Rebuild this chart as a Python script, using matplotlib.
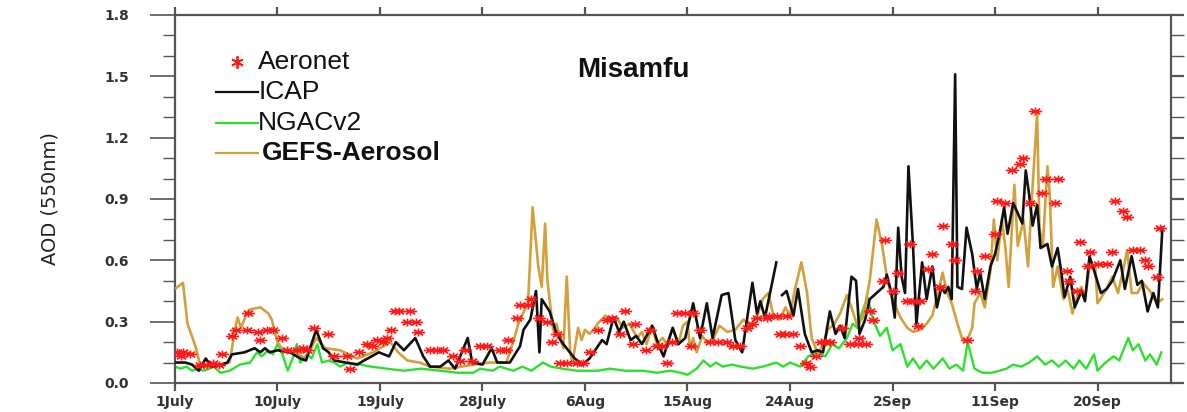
import numpy as np
import matplotlib.pyplot as plt
from matplotlib.path import Path

# days since 1 July, AOD at 550nm
icap_day = [0.0, 0.9, 1.5, 2.1, 2.7, 3.2, 4.0, 4.6, 5.0, 6.1, 7.0, 7.5, 7.9, 8.3, 9.0, 10.1,
            11.0, 11.5, 12.4, 13.0, 13.5, 14.0, 15.0, 16.0, 16.6, 17.9, 18.8, 19.4, 20.1, 21.1,
            21.8, 22.4, 23.3, 24.0, 24.6, 25.7, 26.1, 27.0, 27.8, 28.3, 29.4, 30.3, 30.6, 31.2,
            31.7, 32.0, 32.2, 32.9, 33.5, 34.1, 35.1, 35.8, 36.4, 37.5, 37.9, 38.5, 39.0, 39.4,
            40.0, 40.5, 41.0, 41.9, 42.5, 42.9, 43.7, 44.2, 44.8, 45.5, 46.1, 46.7, 47.2, 48.0,
            48.6, 49.2, 49.8, 50.7, 51.1, 51.4, 51.8, 52.8, 53.0, 53.3, 53.7, 54.3, 54.7, 55.3,
            55.9, 56.4, 56.9, 57.5, 58.0, 58.4, 58.8, 59.4, 59.8, 60.1, 60.6, 61.0, 61.6, 62.2,
            62.5, 62.9, 63.2, 63.5, 63.8, 64.1, 64.4, 64.8, 65.1, 65.6, 66.0, 66.5, 66.9, 67.3,
            67.6, 67.9, 68.2, 68.5, 68.7, 69.1, 69.5, 70.0, 70.4, 70.7, 71.1, 71.6, 72.0, 72.4,
            72.8, 73.1, 73.6, 74.4, 74.7, 75.0, 75.3, 75.7, 76.0, 76.6, 77.0, 77.5, 77.8, 78.1,
            78.6, 79.0, 79.6, 79.9, 80.3, 80.7, 81.3, 81.8, 82.3, 83.0, 83.4, 84.0, 84.5, 84.9,
            85.4, 85.9, 86.3, 86.7]
icap_aod = [0.10, 0.10, 0.09, 0.06, 0.12, 0.08, 0.09, 0.10, 0.14, 0.15, 0.17, 0.15, 0.17, 0.15, 0.16, 0.15,
            0.12, 0.11, 0.26, 0.17, 0.15, 0.11, 0.10, 0.09, 0.11, 0.15, 0.13, 0.20, 0.16, 0.22,
            0.13, 0.08, 0.08, 0.11, 0.07, 0.22, 0.10, 0.09, 0.17, 0.10, 0.10, 0.18, 0.26, 0.31,
            0.45, 0.15, 0.41, 0.35, 0.24, 0.19, 0.12, 0.09, 0.12, 0.21, 0.19, 0.32, 0.25, 0.30,
            0.21, 0.23, 0.19, 0.28, 0.18, 0.13, 0.27, 0.19, 0.22, 0.39, 0.22, 0.39, 0.22, 0.43,
            0.44, 0.21, 0.15, 0.49, 0.34, 0.40, 0.32, 0.59, np.nan, 0.43, 0.45, 0.33, 0.46, 0.24,
            0.15, 0.16, 0.15, 0.35, 0.24, 0.28, 0.22, 0.52, 0.50, 0.24, 0.31, 0.41, 0.44, 0.47,
            0.53, 0.44, 0.32, 0.76, 0.52, 0.44, 1.06, 0.67, 0.29, 0.59, 0.41, 0.57, 0.37, 0.47,
            0.44, 0.47, 0.41, 1.51, 0.47, 0.46, 0.76, 0.63, 0.46, 0.54, 0.41, 0.57, 0.63, 0.73,
            0.86, 0.73, 0.88, 0.78, 1.04, 0.92, 0.77, 0.87, 0.66, 0.68, 0.57, 0.66, 0.55, 0.42,
            0.52, 0.37, 0.45, 0.40, 0.62, 0.55, 0.44, 0.46, 0.50, 0.60, 0.46, 0.62, 0.48, 0.50,
            0.35, 0.44, 0.37, 0.76]

ngac_day = [0.0, 0.5, 1.0, 1.5, 2.0, 2.5, 3.0, 3.4, 4.0, 4.8, 5.7, 6.6, 7.2, 7.6, 8.2, 8.6, 9.0,
            9.5, 9.9, 10.4, 10.7, 11.0, 11.6, 12.0, 12.5, 12.9, 13.5, 14.0, 14.5, 15.2, 16.3,
            17.2, 18.6, 20.1, 21.6, 23.3, 24.8, 26.2, 26.8, 27.9, 28.5, 29.7, 30.5, 31.3, 32.3,
            33.0, 34.0, 35.3, 37.1, 38.2, 39.5, 41.1, 42.3, 43.5, 44.4, 45.0, 45.8, 46.4, 47.0,
            47.5, 48.1, 48.9, 49.7, 50.7, 51.6, 52.8, 53.4, 54.0, 54.9, 55.6, 56.4, 57.1, 57.7,
            58.3, 59.0, 59.5, 59.9, 60.3, 60.8, 61.3, 61.9, 62.5, 63.0, 63.7, 64.3, 64.8, 65.4,
            66.0, 66.6, 67.4, 68.0, 68.6, 69.2, 69.6, 70.2, 70.9, 71.7, 72.4, 73.0, 73.6, 74.3,
            75.0, 75.7, 76.4, 77.0, 77.6, 78.2, 78.9, 79.4, 80.0, 80.7, 81.0, 81.7, 82.4, 82.9,
            83.7, 84.1, 84.6, 85.2, 85.6, 86.2, 86.6]
ngac_aod = [0.08, 0.07, 0.08, 0.06, 0.07, 0.06, 0.07, 0.08, 0.05, 0.06, 0.09, 0.10, 0.15, 0.13, 0.16, 0.14, 0.19,
            0.13, 0.06, 0.13, 0.19, 0.10, 0.14, 0.12, 0.19, 0.10, 0.11, 0.10, 0.08, 0.10, 0.09,
            0.08, 0.07, 0.06, 0.07, 0.06, 0.05, 0.05, 0.07, 0.06, 0.08, 0.06, 0.08, 0.06, 0.10,
            0.08, 0.07, 0.06, 0.06, 0.07, 0.06, 0.06, 0.05, 0.06, 0.05, 0.04, 0.07, 0.11, 0.08,
            0.10, 0.08, 0.09, 0.08, 0.07, 0.08, 0.10, 0.08, 0.10, 0.08, 0.13, 0.15, 0.13, 0.19,
            0.17, 0.22, 0.29, 0.27, 0.34, 0.42, 0.31, 0.23, 0.27, 0.16, 0.19, 0.08, 0.12, 0.07,
            0.11, 0.07, 0.12, 0.07, 0.09, 0.06, 0.20, 0.07, 0.05, 0.05, 0.06, 0.07, 0.09, 0.08,
            0.10, 0.13, 0.09, 0.11, 0.08, 0.11, 0.07, 0.11, 0.07, 0.14, 0.06, 0.10, 0.13, 0.11,
            0.22, 0.16, 0.19, 0.11, 0.14, 0.09, 0.15]

gefs_day = [0.0, 0.7, 1.1, 1.8, 2.2, 3.2, 4.0, 4.8, 5.3, 5.5, 5.8, 6.3, 6.6, 7.5, 8.2, 8.5, 9.0,
            9.5, 10.5, 11.5, 12.4, 13.2, 14.5, 16.0, 17.4, 18.9, 19.6, 20.4, 21.5, 22.4, 24.1,
            26.2, 27.7, 29.1, 29.8, 30.2, 31.0, 31.4, 31.9, 32.2, 32.5, 32.7, 33.2, 33.5, 33.8,
            34.1, 34.4, 34.7, 34.9, 35.4, 35.7, 36.0, 36.4, 36.9, 37.1, 37.8, 38.2, 38.8, 39.3,
            39.9, 40.6, 41.0, 41.4, 41.9, 42.3, 42.8, 43.2, 43.7, 44.2, 44.6, 45.0, 45.2, 45.5,
            45.8, 46.3, 46.7, 47.2, 47.8, 48.5, 49.2, 49.9, 50.5, 51.2, 51.6, 52.1, 52.5, 53.1,
            53.6, 54.0, 54.4, 55.0, 55.5, 55.9, 56.4, 56.9, 57.3, 57.9, 58.4, 59.0, 59.4, 59.9,
            60.4, 61.0, 61.6, 62.1, 62.5, 63.0, 63.7, 64.3, 64.8, 65.4, 66.0, 66.5, 67.0, 67.4,
            67.8, 68.2, 68.7, 69.1, 69.5, 70.0, 70.2, 70.7, 71.1, 71.6, 71.9, 72.2, 72.6, 72.9,
            73.2, 73.7, 74.0, 74.5, 74.9, 75.2, 75.7, 75.9, 76.2, 76.6, 76.8, 77.1, 77.5, 78.0,
            78.4, 78.8, 79.3, 79.6, 79.9, 80.3, 80.8, 81.0, 81.7, 82.3, 82.8, 83.2, 83.6, 84.0,
            84.5, 85.0, 85.6, 86.2, 86.7]
gefs_aod = [0.46, 0.49, 0.29, 0.18, 0.09, 0.08, 0.09, 0.10, 0.27, 0.32, 0.27, 0.34, 0.36, 0.37, 0.34, 0.31, 0.20,
            0.16, 0.15, 0.12, 0.22, 0.17, 0.16, 0.12, 0.15, 0.20, 0.15, 0.11, 0.10, 0.08, 0.07,
            0.09, 0.10, 0.10, 0.22, 0.30, 0.39, 0.86, 0.57, 0.47, 0.78, 0.50, 0.26, 0.29, 0.22,
            0.17, 0.52, 0.15, 0.10, 0.27, 0.21, 0.26, 0.24, 0.27, 0.29, 0.33, 0.31, 0.32, 0.27,
            0.29, 0.22, 0.25, 0.19, 0.28, 0.19, 0.22, 0.19, 0.27, 0.19, 0.28, 0.30, 0.17, 0.22,
            0.15, 0.23, 0.20, 0.21, 0.28, 0.25, 0.26, 0.31, 0.28, 0.34, 0.41, 0.44, 0.34, 0.31,
            0.37, 0.33, 0.45, 0.59, 0.44, 0.22, 0.15, 0.18, 0.26, 0.29, 0.34, 0.43, 0.37, 0.28,
            0.32, 0.50, 0.80, 0.67, 0.52, 0.41, 0.32, 0.27, 0.25, 0.26, 0.29, 0.33, 0.44, 0.54,
            0.44, 0.39, 0.29, 0.22, 0.20, 0.27, 0.39, 0.44, 0.37, 0.55, 0.80, 0.60, 0.80, 0.67,
            0.47, 0.97, 0.67, 0.80, 0.57, 0.87, 1.32, 0.76, 0.67, 1.06, 0.93, 0.47, 0.57, 0.41,
            0.45, 0.34, 0.44, 0.47, 0.41, 0.57, 0.57, 0.39, 0.45, 0.52, 0.44, 0.54, 0.65, 0.44,
            0.44, 0.49, 0.45, 0.39, 0.41]

aeronet_day = [0.2, 0.5, 0.7, 1.3, 2.2, 2.8, 3.3, 3.9, 4.1, 5.0, 5.4, 6.3, 6.4, 7.3, 7.5, 8.1, 8.6,
               9.4, 9.8, 10.7, 11.2, 11.6, 12.2, 13.4, 14.0, 15.1, 15.4, 16.2, 16.9, 17.3, 17.7,
               18.3, 18.6, 19.0, 19.3, 19.7, 20.4, 20.6, 21.2, 21.3, 22.4, 23.0, 23.5, 24.4, 25.0,
               25.5, 26.1, 26.8, 27.4, 28.5, 29.1, 29.2, 30.0, 30.3, 31.0, 31.3, 32.0, 32.7, 33.1,
               33.5, 33.8, 34.4, 35.3, 35.8, 36.4, 37.1, 37.9, 38.4, 39.1, 39.5, 40.2, 40.4, 41.4,
               41.7, 42.3, 42.8, 43.2, 43.6, 44.1, 44.8, 45.5, 45.3, 46.1, 47.0, 47.7, 48.5, 49.0,
               49.6, 50.2, 50.7, 51.1, 52.0, 52.2, 52.9, 53.7, 53.1, 53.6, 54.3, 54.9, 55.4, 55.8,
               56.3, 56.7, 57.1, 57.5, 58.6, 59.3, 60.0, 60.1, 60.7, 61.0, 61.3, 62.2, 62.3, 63.0,
               63.5, 64.3, 64.8, 65.4, 64.5, 65.2, 66.1, 66.5, 67.2, 67.4, 68.2, 68.5, 69.5, 70.2,
               70.4, 71.1, 72.0, 72.2, 72.9, 73.5, 74.2, 74.5, 75.1, 75.5, 76.1, 76.5, 77.3, 77.5,
               78.3, 78.5, 79.2, 79.5, 80.2, 80.3, 81.0, 81.8, 82.3, 82.5, 83.2, 83.6, 84.1, 84.7,
               85.2, 85.4, 86.2, 86.5]
aeronet_aod = [0.15, 0.13, 0.15, 0.14, 0.09, 0.09, 0.10, 0.09, 0.14, 0.23, 0.26, 0.26, 0.34, 0.25, 0.21, 0.26, 0.26,
               0.22, 0.16, 0.16, 0.17, 0.16, 0.27, 0.24, 0.13, 0.13, 0.07, 0.15, 0.19, 0.18, 0.21,
               0.20, 0.22, 0.26, 0.35, 0.35, 0.30, 0.35, 0.30, 0.25, 0.16, 0.16, 0.16, 0.13, 0.11,
               0.16, 0.11, 0.18, 0.18, 0.16, 0.16, 0.21, 0.32, 0.38, 0.38, 0.41, 0.32, 0.30, 0.20,
               0.24, 0.10, 0.10, 0.10, 0.10, 0.15, 0.26, 0.31, 0.32, 0.24, 0.35, 0.19, 0.29, 0.16,
               0.26, 0.18, 0.18, 0.10, 0.20, 0.34, 0.34, 0.34, 0.18, 0.26, 0.20, 0.20, 0.20, 0.18,
               0.18, 0.27, 0.29, 0.32, 0.32, 0.33, 0.33, 0.33, 0.24, 0.24, 0.24, 0.18, 0.10, 0.08,
               0.13, 0.20, 0.20, 0.20, 0.27, 0.19, 0.19, 0.22, 0.19, 0.35, 0.31, 0.50, 0.70, 0.45,
               0.54, 0.40, 0.40, 0.40, 0.68, 0.28, 0.56, 0.63, 0.47, 0.77, 0.68, 0.60, 0.21, 0.45,
               0.55, 0.62, 0.73, 0.89, 0.88, 1.04, 1.07, 1.10, 0.88, 1.33, 0.93, 1.00, 0.88, 1.00,
               0.55, 0.50, 0.45, 0.69, 0.57, 0.64, 0.58, 0.58, 0.64, 0.89, 0.84, 0.81, 0.65, 0.65,
               0.60, 0.57, 0.52, 0.76]

tick_days = [0, 9, 18, 27, 36, 45, 54, 63, 72, 81]
tick_labels = ['1July', '10July', '19July', '28July', '6Aug', '15Aug', '24Aug', '2Sep', '11Sep', '20Sep']

# NCL-like asterisk, a bit wider than tall
ang = np.deg2rad([0, 45, 90, 135])
verts, codes = [], []
for a in ang:
    dx, dy = np.cos(a), 0.6 * np.sin(a)
    verts += [(-dx, -dy), (dx, dy)]
    codes += [Path.MOVETO, Path.LINETO]
star = Path(verts, codes)

red = '#FF1A1A'
black = '#111111'
green = '#2EE02E'
gold = '#D4A03C'
axis_grey = '#555555'

fig = plt.figure(figsize=(11.87, 4.12), dpi=100)
ax = fig.add_axes([0.1474, 0.0704, 0.8391, 0.8932])

ax.plot(ngac_day, ngac_aod, color=green, lw=1.7, zorder=2)
ax.plot(gefs_day, gefs_aod, color=gold, lw=1.9, zorder=3)
ax.plot(icap_day, icap_aod, color=black, lw=1.9, zorder=4)
ax.plot(aeronet_day, aeronet_aod, ls='none', marker=star, ms=9.5,
        mec=red, mfc='none', mew=1.2, zorder=5)

ax.set_xlim(0, 87.45)
ax.set_ylim(0, 1.8)
ax.set_xticks(tick_days)
ax.set_xticklabels(tick_labels)
ax.set_yticks(np.arange(0, 1.81, 0.3))
ax.set_yticklabels(['%.1f' % v for v in np.arange(0, 1.81, 0.3)])
ax.set_yticks(np.arange(0, 1.81, 0.1), minor=True)

for s in ax.spines.values():
    s.set_color(axis_grey)
    s.set_linewidth(1.6)

ax.tick_params(axis='y', which='major', direction='out', length=18, width=1.2,
               color=axis_grey, pad=15, labelsize=10)
ax.tick_params(axis='y', which='minor', direction='out', length=9, width=1.0, color=axis_grey)
ax.tick_params(axis='x', which='major', direction='out', length=6, width=1.6,
               color=axis_grey, pad=3, labelsize=10, top=True)
for lab in ax.get_xticklabels() + ax.get_yticklabels():
    lab.set_fontfamily('DejaVu Sans')
    lab.set_fontweight('bold')
    lab.set_color('#333333')

# right-hand ticks are shorter than the left ones
ax2 = ax.twinx()
ax2.set_ylim(0, 1.8)
ax2.set_yticks(np.arange(0, 1.81, 0.3))
ax2.set_yticks(np.arange(0, 1.81, 0.1), minor=True)
ax2.tick_params(axis='y', which='both', direction='out', length=9, width=1.0,
                color=axis_grey, labelright=False)
ax2.tick_params(axis='y', which='major', width=1.6)
for s in ax2.spines.values():
    s.set_visible(False)

ax.set_ylabel('AOD (550nm)', family='Liberation Sans Narrow', fontsize=14, color='#222222')
ax.yaxis.set_label_coords(-0.116, 0.5)

# legend drawn by hand like the NCL original
tr = ax.transAxes
lab_font = dict(family='Liberation Sans', fontsize=19, color='#111111', va='center', transform=tr)
ax.plot([0.0625], [0.872], ls='none', marker=(6, 2, 0), ms=9, mec=red, mew=1.3,
        transform=tr, clip_on=False)
ax.text(0.0835, 0.872, 'Aeronet', **lab_font)
for y, c, name, wt in [(0.791, black, 'ICAP', 'normal'),
                       (0.7065, green, 'NGACv2', 'normal'),
                       (0.625, gold, 'GEFS-Aerosol', 'bold')]:
    ax.plot([0.041, 0.083], [y, y], color=c, lw=1.6, transform=tr, clip_on=False)
    ax.text(0.0835 if wt == 'normal' else 0.0875, y, name, fontweight=wt, **lab_font)

ax.text(0.46, 0.85, 'Misamfu', family='Liberation Sans', fontsize=20, fontweight='bold',
        color='#111111', ha='center', va='center', transform=tr)

fig.savefig('out.png', dpi=100, facecolor='white')
